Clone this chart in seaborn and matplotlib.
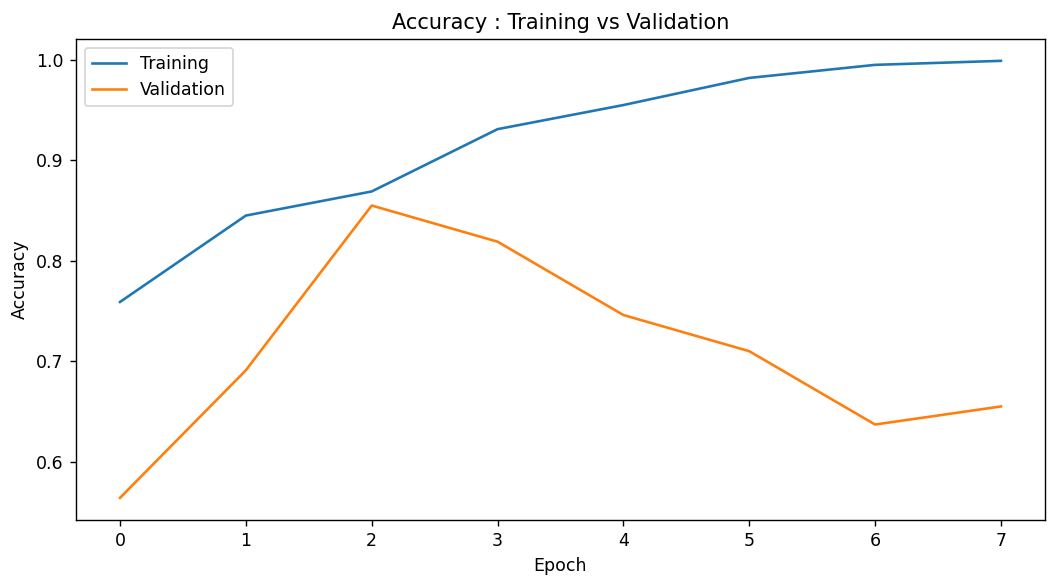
import pandas as pd
import matplotlib
matplotlib.use("Agg")
import matplotlib.pyplot as plt
import seaborn as sns

# values
epochs = [0, 1, 2, 3, 4, 5, 6, 7]
train_acc = [0.759, 0.845, 0.869, 0.931, 0.955, 0.982, 0.995, 0.999]
val_acc = [0.564, 0.691, 0.855, 0.819, 0.746, 0.710, 0.637, 0.655]

df = pd.DataFrame({
    "Epoch": epochs * 2,
    "Accuracy": train_acc + val_acc,
    "Set": ["Training"] * len(epochs) + ["Validation"] * len(epochs),
})

# reference looks like it was rendered at 125 dpi
fig, ax = plt.subplots(figsize=(1055 / 125, 582 / 125), dpi=125)
fig.subplots_adjust(left=0.072, right=0.9905, top=0.933, bottom=0.107)

sns.lineplot(data=df, x="Epoch", y="Accuracy", hue="Set",
             palette=["#1f77b4", "#ff7f0e"], ax=ax)

ax.set_title("Accuracy : Training vs Validation")
ax.set_xlabel("Epoch")
ax.set_ylabel("Accuracy")
ax.legend(loc="upper left", title=None)

fig.savefig("out.png", dpi=125)
